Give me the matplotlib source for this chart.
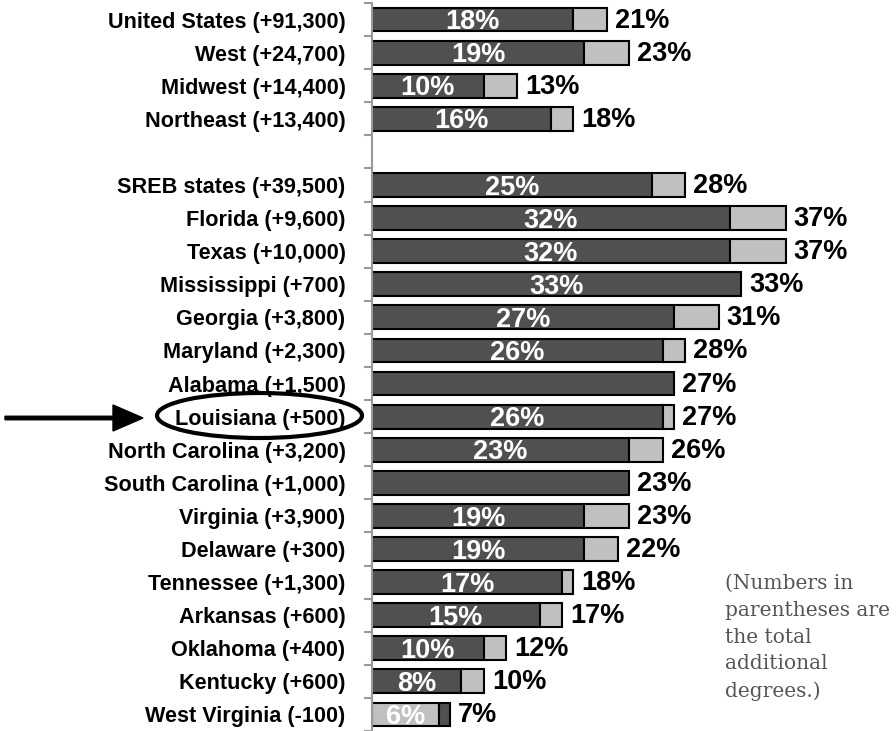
import matplotlib
matplotlib.use("Agg")
import matplotlib.pyplot as plt
from matplotlib.patches import Ellipse, FancyArrow
import numpy as np

categories = ["United States (+91,300)", "West (+24,700)", "Midwest (+14,400)", "Northeast (+13,400)", "",
              "SREB states (+39,500)", "Florida (+9,600)", "Texas (+10,000)", "Mississippi (+700)",
              "Georgia (+3,800)", "Maryland (+2,300)", "Alabama (+1,500)", "Louisiana (+500)",
              "North Carolina (+3,200)", "South Carolina (+1,000)", "Virginia (+3,900)", "Delaware (+300)",
              "Tennessee (+1,300)", "Arkansas (+600)", "Oklahoma (+400)", "Kentucky (+600)",
              "West Virginia (-100)"]
first_vals = [18, 19, 10, 16, None, 25, 32, 32, 33, 27, 26, 27, 26, 23, 23, 19, 19, 17, 15, 10, 8, 6]
totals = [21, 23, 13, 18, None, 28, 37, 37, 33, 31, 28, 27, 27, 26, 23, 23, 22, 18, 17, 12, 10, 7]
inner_labels = ["18%", "19%", "10%", "16%", "", "25%", "32%", "32%", "33%", "27%", "26%", "", "26%",
                "23%", "", "19%", "19%", "17%", "15%", "10%", "8%", "6%"]
outer_labels = ["21%", "23%", "13%", "18%", "", "28%", "37%", "37%", "33%", "31%", "28%", "27%", "27%",
                "26%", "23%", "23%", "22%", "18%", "17%", "12%", "10%", "7%"]
note = "(Numbers in\nparentheses are\nthe total\nadditional\ndegrees.)"

DARK = "#505050"
LIGHT = "#c0c0c0"

fig = plt.figure(figsize=(8.96, 7.31), dpi=100)
W, H = 896, 731
ax = fig.add_axes([372 / W, 0, 46 * 11.18 / W, 1 - 3 / H])

n = len(categories)
ys = np.arange(n)
for i in range(n):
    if first_vals[i] is None:
        continue
    f = first_vals[i]
    t = totals[i]
    c1, c2 = (DARK, LIGHT)
    if categories[i].startswith("West Virginia"):
        c1, c2 = (LIGHT, DARK)
    ax.barh(ys[i], f, height=0.72, color=c1, edgecolor="black", linewidth=1.5)
    if t > f:
        ax.barh(ys[i], t - f, left=f, height=0.72, color=c2, edgecolor="black", linewidth=1.5)
    if inner_labels[i]:
        ax.text(f / 2, ys[i] + 0.08, inner_labels[i], ha="center", va="center", color="white",
                fontsize=19.5, fontweight="bold", family="Liberation Sans")
    ax.text(t + 0.72, ys[i] + 0.03, outer_labels[i], ha="left", va="center", color="black",
            fontsize=19.5, fontweight="bold", family="Liberation Sans", clip_on=False)

ax.set_xlim(0, 46)
ax.set_ylim(n - 0.5, -0.5)
for s in ["top", "right", "bottom"]:
    ax.spines[s].set_visible(False)
ax.spines["left"].set_color("#999999")
ax.spines["left"].set_linewidth(1.5)
ax.set_xticks([])
ax.set_yticks(ys)
ax.set_yticklabels(categories, fontsize=15.6, fontweight="bold", family="Liberation Sans")
ax.tick_params(axis="y", which="major", length=0, pad=19)
ax.set_yticks(np.arange(-0.5, n, 1.0), minor=True)
ax.tick_params(axis="y", which="minor", length=6, width=1.5, color="#999999", direction="out")

# Louisiana highlight
ell = Ellipse((259.5 / W, 1 - 415.5 / H), 205 / W, 45 / H, transform=fig.transFigure,
              fill=False, edgecolor="black", linewidth=3)
fig.patches.append(ell)
arr = FancyArrow(5 / W, 1 - 418 / H, 138 / W, 0, width=3.5 / H, head_width=26 / H, head_length=30 / W,
                 length_includes_head=True, transform=fig.transFigure, color="black")
fig.patches.append(arr)

fig.text(725 / W, 1 - 574 / H, note, ha="left", va="top", fontsize=14.5, family="DejaVu Serif",
         color="#555555", linespacing=1.52)

fig.savefig("out.png", dpi=100)
